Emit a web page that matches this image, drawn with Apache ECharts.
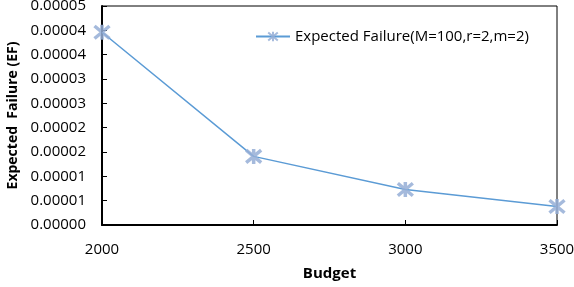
<!DOCTYPE html>
<html>
<head>
<meta charset="utf-8">
<script src="https://cdn.jsdelivr.net/npm/echarts@6/dist/echarts.min.js"></script>
<style>
html,body{margin:0;padding:0;background:#fff;}
#chart{width:574px;height:287px;}
</style>
</head>
<body>
<div id="chart"></div>
<script>
var budgets=[2000,2500,3000,3500];
var failure=[0.0000396,0.0000141,0.0000073,0.0000038];
var yLabels=['0.00000','0.00001','0.00001','0.00002','0.00002','0.00003','0.00003','0.00004','0.00004','0.00005'];
var seriesName='Expected Failure(M=100,r=2,m=2)';

var font='"Open Sans"';
var mychart=echarts.init(document.getElementById('chart'));
var points=[];
for(var i=0;i<budgets.length;i++){
	points.push([budgets[i],failure[i]]);
}
var star='path://M0,0L10,10M10,0L0,10M5,-1L5,11';
var option={
	animation:false,
	grid:{left:102,right:17,top:6,bottom:62,show:true,borderColor:'#000',borderWidth:1,
		containLabel:false,outerBoundsMode:'none'},
	legend:{
		top:24,left:250,
		itemWidth:34,itemHeight:12,itemGap:4,
		textStyle:{fontFamily:font,fontSize:15,color:'#000'},
		data:[seriesName]
	},
	xAxis:{
		type:'value',min:2000,max:3500,interval:500,
		name:'Budget',nameLocation:'middle',nameGap:41,
		nameTextStyle:{fontFamily:font,fontSize:15,fontWeight:'bold',color:'#000'},
		axisLine:{lineStyle:{color:'#000',width:2}},
		axisTick:{inside:true,length:5,lineStyle:{color:'#000',width:1}},
		axisLabel:{fontFamily:font,fontSize:15,color:'#000',margin:17,
			formatter:function(v){return String(v);}},
		splitLine:{show:false}
	},
	yAxis:{
		type:'value',min:0,max:0.000045,interval:0.000005,
		name:'Expected  Failure (EF)',nameLocation:'middle',nameGap:80,
		nameTextStyle:{fontFamily:font,fontSize:14,fontWeight:'bold',color:'#000'},
		axisLine:{lineStyle:{color:'#000',width:2}},
		axisTick:{inside:true,length:5,lineStyle:{color:'#000',width:1}},
		axisLabel:{fontFamily:font,fontSize:15,color:'#000',margin:16,
			formatter:function(v){return yLabels[Math.round(v/0.000005)];}},
		splitLine:{show:false}
	},
	series:[{
		name:seriesName,type:'line',data:points,
		symbol:star,symbolSize:15,
		lineStyle:{color:'#5b9bd5',width:1.5},
		itemStyle:{color:'none',borderColor:'#95aed6',borderWidth:3.5,opacity:0.85}
	}]
};
mychart.setOption(option);
</script>
</body>
</html>
